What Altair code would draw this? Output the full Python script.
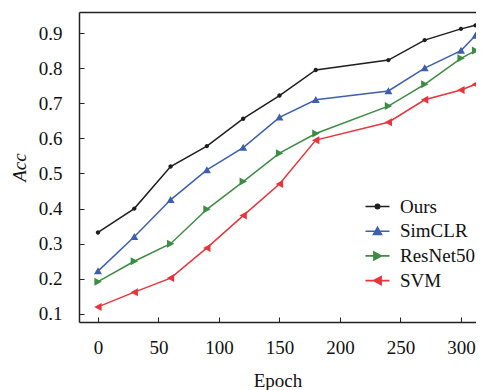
import altair as alt
import pandas as pd

epochs = [0, 30, 60, 90, 120, 150, 180, 240, 270, 300, 312]
ours = [0.332, 0.400, 0.520, 0.578, 0.656, 0.722, 0.795, 0.823, 0.880, 0.912, 0.922]
simclr = [0.222, 0.320, 0.425, 0.510, 0.574, 0.660, 0.710, 0.735, 0.800, 0.850, 0.893]
resnet50 = [0.192, 0.250, 0.300, 0.398, 0.477, 0.558, 0.614, 0.692, 0.754, 0.828, 0.850]
svm = [0.120, 0.162, 0.202, 0.288, 0.380, 0.470, 0.595, 0.646, 0.710, 0.738, 0.754]

series = ["Ours", "SimCLR", "ResNet50", "SVM"]
colors = ["#1e1e1e", "#3f5fae", "#3d8b45", "#e6353c"]
shapes = [
    "M-3,0H3M0.55,0A0.55,0.55 0 1,1 -0.55,0A0.55,0.55 0 1,1 0.55,0Z",
    "M-3,0H3M-1,0.8L0,-0.95L1,0.8Z",
    "M-3,0H3M-0.9,-1L0.95,0L-0.9,1Z",
    "M-3,0H3M0.9,-1L-0.95,0L0.9,1Z",
]

rows = []
for name, vals in zip(series, [ours, simclr, resnet50, svm]):
    for e, v in zip(epochs, vals):
        rows.append({"Epoch": e, "Acc": v, "Model": name})
df = pd.DataFrame(rows)

font = "Liberation Serif, Times New Roman, DejaVu Serif, serif"
fs = 19
xscale = alt.Scale(domain=[-15.7, 312.4], nice=False, zero=False)
yscale = alt.Scale(domain=[0.077, 0.96], nice=False, zero=False)

x_main = alt.X("Epoch:Q", scale=xscale,
               axis=alt.Axis(values=[0, 50, 100, 150, 200, 250, 300], title="Epoch",
                             grid=False, domain=False, offset=-5, tickSize=5,
                             tickColor="#222", labelPadding=16, labelFontSize=fs,
                             labelFont=font, labelColor="#111", titleFont=font,
                             titleFontSize=fs, titleFontWeight="normal",
                             titleColor="#111", titlePadding=14))
y_main = alt.Y("Acc:Q", scale=yscale,
               axis=alt.Axis(values=[0.1, 0.2, 0.3, 0.4, 0.5, 0.6, 0.7, 0.8, 0.9],
                             format=".1f", title="Acc", grid=False, domain=False,
                             offset=-5, tickSize=5, tickColor="#222", labelPadding=17,
                             labelFontSize=fs, labelFont=font, labelColor="#111",
                             titleFont=font, titleFontSize=fs, titleFontStyle="italic",
                             titleFontWeight="normal", titleColor="#111",
                             titlePadding=9))


def frame_axis(orient):
    return alt.Axis(orient=orient, domain=True, domainColor="#222", domainWidth=1.5,
                    ticks=False, labels=False, grid=False, title=None)


legend = alt.Legend(title=None, orient="none", legendX=289, legendY=185,
                    labelFont=font, labelFontSize=fs, labelColor="#111",
                    symbolSize=64, symbolStrokeWidth=1.6, rowPadding=4.7,
                    labelOffset=13)
color = alt.Color("Model:N", scale=alt.Scale(domain=series, range=colors), legend=legend)
shape = alt.Shape("Model:N", scale=alt.Scale(domain=series, range=shapes), legend=legend)

lines = alt.Chart(df).mark_line(strokeWidth=1.5).encode(x=x_main, y=y_main, color=color)
points = alt.Chart(df).mark_point(filled=True, size=64, strokeWidth=0, opacity=1).encode(
    x=alt.X("Epoch:Q", scale=xscale, axis=frame_axis("bottom")),
    y=alt.Y("Acc:Q", scale=yscale, axis=frame_axis("left")),
    color=color, shape=shape)
frame = alt.Chart(df).mark_point(opacity=0).encode(
    x=alt.X("Epoch:Q", scale=xscale, axis=frame_axis("top")),
    y=alt.Y("Acc:Q", scale=yscale, axis=None))

chart = alt.layer(lines, points, frame).resolve_axis(x="independent", y="independent").properties(
    width=397, height=310,
    autosize=alt.AutoSizeParams(type="none"),
    padding={"left": 71, "top": 4, "right": 0, "bottom": 70},
    background="white",
).configure_view(stroke=None)

chart.save("out.html", embed_options={"renderer": "svg", "actions": False})
